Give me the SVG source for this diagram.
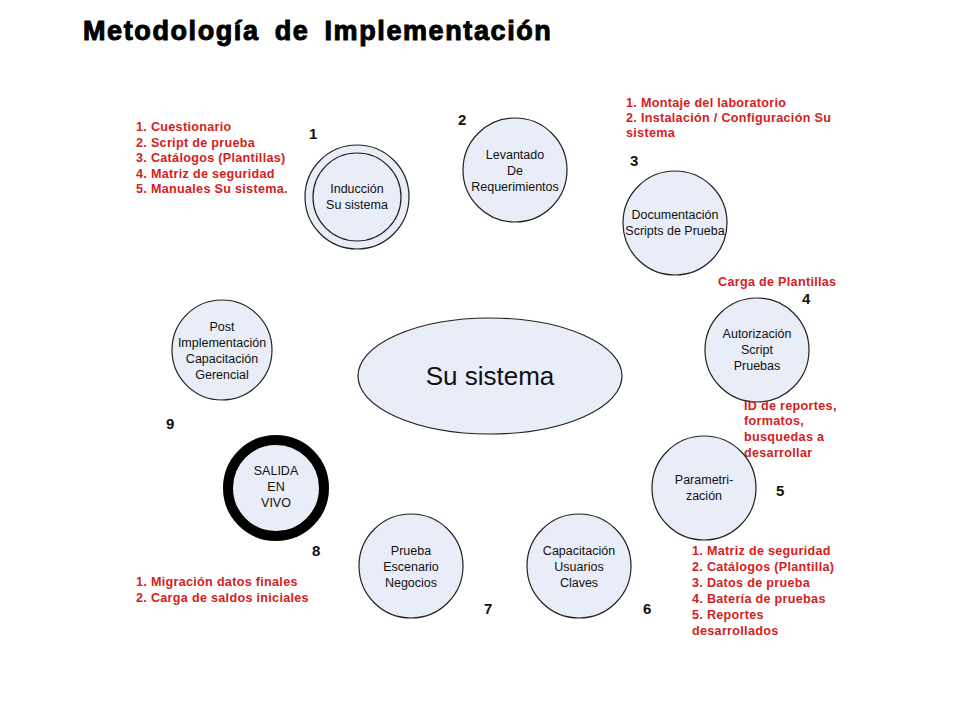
<svg xmlns="http://www.w3.org/2000/svg" width="960" height="720" viewBox="0 0 960 720">
<style>
.c{fill:#e8edf7;stroke:#222;stroke-width:1.2}
.t{font-family:"Liberation Sans",Arial,sans-serif;font-size:12.5px;fill:#111;text-anchor:middle}
.r{font-family:"Liberation Sans",Arial,sans-serif;font-size:12.6px;font-weight:bold;fill:#d42020;letter-spacing:0.3px}
.n{font-family:"Liberation Sans",Arial,sans-serif;font-size:15px;font-weight:bold;fill:#111}
</style>
<rect width="960" height="720" fill="#fff"/>
<text x="83" y="40" font-family="'Liberation Sans',Arial,sans-serif" font-size="27" font-weight="900" stroke="#000" stroke-width="1" letter-spacing="1.6" word-spacing="6">Metodología  de  Implementación</text>
<g id="centro"><ellipse class="c" cx="490" cy="376" rx="132" ry="58"/><text class="t" x="490" y="385" style="font-size:26px">Su sistema</text></g>
<g id="n1"><circle class="c" cx="357" cy="197" r="52"/><circle class="c" cx="357" cy="197" r="44"/><text class="t" x="357" y="193">Inducción</text><text class="t" x="357" y="209">Su sistema</text><text class="n" x="309" y="139">1</text></g>
<g id="n2"><circle class="c" cx="515" cy="170" r="52"/><text class="t" x="515" y="159">Levantado</text><text class="t" x="515" y="175">De</text><text class="t" x="515" y="191">Requerimientos</text><text class="n" x="458" y="125">2</text></g>
<g id="n3"><circle class="c" cx="675" cy="223" r="52"/><text class="t" x="675" y="219">Documentación</text><text class="t" x="675" y="235">Scripts de Prueba</text><text class="n" x="630" y="166">3</text></g>
<g id="n4"><circle class="c" cx="757" cy="350" r="52"/><text class="t" x="757" y="338">Autorización</text><text class="t" x="757" y="354">Script</text><text class="t" x="757" y="370">Pruebas</text><text class="n" x="802" y="304">4</text></g>
<g id="n5"><circle class="c" cx="704" cy="488" r="52"/><text class="t" x="704" y="484">Parametri-</text><text class="t" x="704" y="500">zación</text><text class="n" x="776" y="496">5</text></g>
<g id="n6"><circle class="c" cx="579" cy="566" r="52"/><text class="t" x="579" y="555">Capacitación</text><text class="t" x="579" y="571">Usuarios</text><text class="t" x="579" y="587">Claves</text><text class="n" x="643" y="614">6</text></g>
<g id="n7"><circle class="c" cx="411" cy="566" r="52"/><text class="t" x="411" y="555">Prueba</text><text class="t" x="411" y="571">Escenario</text><text class="t" x="411" y="587">Negocios</text><text class="n" x="484" y="614">7</text></g>
<g id="n8"><circle cx="276" cy="488" r="48" fill="#e8edf7" stroke="#000" stroke-width="10"/><text class="t" x="276" y="475">SALIDA</text><text class="t" x="276" y="491">EN</text><text class="t" x="276" y="507">VIVO</text><text class="n" x="312" y="556">8</text></g>
<g id="n9"><circle class="c" cx="222" cy="350" r="50"/><text class="t" x="222" y="331">Post</text><text class="t" x="222" y="347">Implementación</text><text class="t" x="222" y="363">Capacitación</text><text class="t" x="222" y="379">Gerencial</text><text class="n" x="166" y="429">9</text></g>
<g id="notas">
<text class="r" x="136" y="131">1. Cuestionario</text><text class="r" x="136" y="146.5">2. Script de prueba</text><text class="r" x="136" y="162">3. Catálogos (Plantillas)</text><text class="r" x="136" y="177.5">4. Matriz de seguridad</text><text class="r" x="136" y="193">5. Manuales Su sistema.</text>
<text class="r" x="626" y="107">1. Montaje del laboratorio</text><text class="r" x="626" y="122">2. Instalación / Configuración Su</text><text class="r" x="626" y="137">sistema</text>
<text class="r" x="718" y="286">Carga de Plantillas</text>
<text class="r" x="744" y="410">ID de reportes,</text><text class="r" x="744" y="425">formatos,</text><text class="r" x="744" y="441">busquedas a</text><text class="r" x="744" y="457">desarrollar</text>
<text class="r" x="692" y="555">1. Matriz de seguridad</text><text class="r" x="692" y="571">2. Catálogos (Plantilla)</text><text class="r" x="692" y="587">3. Datos de prueba</text><text class="r" x="692" y="603">4. Batería de pruebas</text><text class="r" x="692" y="619">5. Reportes</text><text class="r" x="692" y="635">desarrollados</text>
<text class="r" x="136" y="586">1. Migración datos finales</text><text class="r" x="136" y="602">2. Carga de saldos iniciales</text>
</g>
<g id="connectors"/>
</svg>
